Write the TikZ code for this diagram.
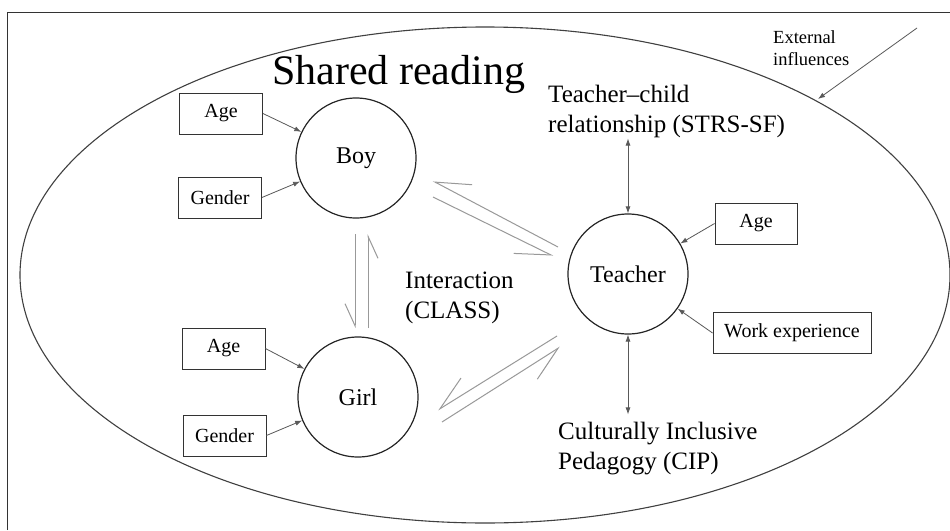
\documentclass[tikz,border=0pt]{standalone}
\usepackage{fontspec}
\setmainfont{Liberation Serif}
\usetikzlibrary{arrows.meta}
\begin{document}
\begin{tikzpicture}[x=1pt,y=-1pt,
  circ/.style={draw=black!85, line width=1.2pt, circle, minimum size=120pt, inner sep=0pt, font=\fontsize{24}{28}\selectfont},
  vbox/.style={draw=black!80, line width=0.9pt, rectangle, minimum height=41pt, inner sep=0pt, font=\fontsize{20}{24}\selectfont},
  lbl/.style={font=\fontsize{25}{30}\selectfont, align=left, inner sep=0pt},
  feed/.style={draw=black!65, line width=0.8pt, -{Latex[length=7pt,width=5pt]}},
  both/.style={draw=black!65, line width=0.8pt, {Latex[length=7pt,width=5pt]}-{Latex[length=7pt,width=5pt]}},
  harp/.style={draw=black!40, line width=1pt, -{Straight Barb[harpoon,swap,length=34pt,width=30pt]}},
  harpv/.style={draw=black!40, line width=1pt, -{Straight Barb[harpoon,swap,length=22pt,width=20pt]}}
]
\useasboundingbox (0,0) rectangle (950,530);
\fill[white] (0,0) rectangle (950,530);
\draw[line width=1pt, black!80] (7,530) -- (7,12) -- (950,12);
\draw[line width=1.1pt, black!75] (485,275) ellipse [x radius=465, y radius=248];

% titles and labels (anchored at the baseline of the last line)
\node[font=\fontsize{42}{48}\selectfont, anchor=base west, inner sep=0pt] (title) at (272,84) {Shared reading};
\node[font=\fontsize{18.5}{22}\selectfont, anchor=base west, align=left, inner sep=0pt] (ext) at (773,65) {External\\influences};
\node[lbl, anchor=base west] (tc) at (548,132) {Teacher–child\\relationship (STRS-SF)};
\node[lbl, anchor=base west] (cip) at (558,469) {Culturally Inclusive\\Pedagogy (CIP)};
\node[lbl, anchor=base west] (inter) at (405,318) {Interaction\\(CLASS)};

% circles
\node[circ] (boy) at (356,158) {Boy};
\node[circ] (girl) at (358,397) {Girl};
\node[circ] (teacher) at (628,274) {Teacher};

% boxes
\node[vbox, minimum width=83pt] (bage) at (221,113.5) {Age};
\node[vbox, minimum width=83pt] (bgen) at (220,197.5) {Gender};
\node[vbox, minimum width=83pt] (gage) at (223.5,348.5) {Age};
\node[vbox, minimum width=83pt] (ggen) at (224.5,435.5) {Gender};
\node[vbox, minimum width=82pt] (tage) at (756,223.5) {Age};
\node[vbox, minimum width=158pt] (twork) at (792,333) {Work experience};

% feeding arrows
\draw[feed] (bage.east) -- (boy);
\draw[feed] (bgen.east) -- (boy);
\draw[feed] (gage.east) -- (girl);
\draw[feed] (ggen.east) -- (girl);
\draw[feed] (tage.west) -- (teacher);
\draw[feed] (twork.west) -- (teacher);
\draw[both] ([yshift=-1pt]teacher.north |- tc.south) -- (teacher.north);
\draw[both] (teacher.south) -- ([yshift=7pt]teacher.south |- cip.north);

% external influences
\coordinate (exs) at (917,28);
\coordinate (exh) at (818,99);
\draw[feed] (exs) -- (exh);

% harpoon pairs
\coordinate (bt1s) at (558,247); \coordinate (bt1e) at (433,181);
\coordinate (bt2s) at (433,197); \coordinate (bt2e) at (553,256);
\coordinate (gt1s) at (557,336); \coordinate (gt1e) at (438,410);
\coordinate (gt2s) at (442,422); \coordinate (gt2e) at (560,347);
\coordinate (bg1s) at (355,234); \coordinate (bg1e) at (355,328);
\coordinate (bg2s) at (368,328); \coordinate (bg2e) at (368,234);
\draw[harp] (bt1s) -- (bt1e);
\draw[harp] (bt2s) -- (bt2e);
\draw[harp] (gt1s) -- (gt1e);
\draw[harp] (gt2s) -- (gt2e);
\draw[harpv] (bg1s) -- (bg1e);
\draw[harpv] (bg2s) -- (bg2e);
\end{tikzpicture}
\end{document}
